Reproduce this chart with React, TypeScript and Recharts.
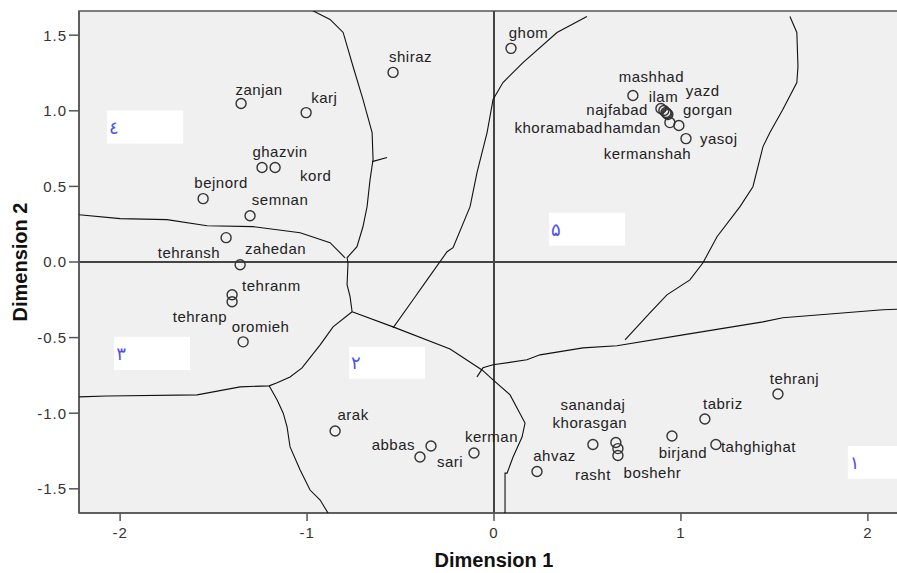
import React from 'react';
import { ScatterChart, Scatter, XAxis, YAxis, ReferenceLine, ReferenceArea, CartesianGrid } from 'recharts';

// ---- data ----
const cities = [
  { name: 'zanjan', x: -1.353, y: 1.048 },
  { name: 'karj', x: -1.005, y: 0.988 },
  { name: 'shiraz', x: -0.54, y: 1.254 },
  { name: 'ghazvin', x: -1.241, y: 0.625 },
  { name: 'kord', x: -1.171, y: 0.625 },
  { name: 'bejnord', x: -1.556, y: 0.419 },
  { name: 'semnan', x: -1.305, y: 0.306 },
  { name: 'tehransh', x: -1.433, y: 0.161 },
  { name: 'zahedan', x: -1.358, y: -0.018 },
  { name: 'tehranm', x: -1.401, y: -0.217 },
  { name: 'tehranp', x: -1.401, y: -0.263 },
  { name: 'oromieh', x: -1.342, y: -0.528 },
  { name: 'arak', x: -0.85, y: -1.118 },
  { name: 'abbas', x: -0.337, y: -1.217 },
  { name: 'sari', x: -0.396, y: -1.29 },
  { name: 'kerman', x: -0.107, y: -1.263 },
  { name: 'ahvaz', x: 0.23, y: -1.386 },
  { name: 'sanandaj', x: 0.529, y: -1.207 },
  { name: 'khorasgan', x: 0.652, y: -1.194 },
  { name: 'rasht', x: 0.663, y: -1.234 },
  { name: 'boshehr', x: 0.663, y: -1.28 },
  { name: 'birjand', x: 0.952, y: -1.151 },
  { name: 'tabriz', x: 1.128, y: -1.038 },
  { name: 'tehranj', x: 1.519, y: -0.873 },
  { name: 'tahghighat', x: 1.187, y: -1.207 },
  { name: 'ghom', x: 0.091, y: 1.413 },
  { name: 'mashhad', x: 0.743, y: 1.101 },
  { name: 'ilam', x: 0.893, y: 1.015 },
  { name: 'najfabad', x: 0.909, y: 1.002 },
  { name: 'gorgan', x: 0.92, y: 0.989 },
  { name: 'kermanshah', x: 0.925, y: 0.982 },
  { name: 'yazd', x: 0.93, y: 0.975 },
  { name: 'khoramabad', x: 0.941, y: 0.922 },
  { name: 'hamdan', x: 0.989, y: 0.903 },
  { name: 'yasoj', x: 1.027, y: 0.816 },
];

const xTicks = [-2, -1, 0, 1, 2];
const yTicks = [-1.5, -1.0, -0.5, 0.0, 0.5, 1.0, 1.5];
const xDomain: [number, number] = [-2.22, 2.22];
const yDomain: [number, number] = [-1.66, 1.66];

// region boundaries (data coordinates)
const boundaryA = [
  { x: -0.973, y: 1.664 }, { x: -0.877, y: 1.604 }, { x: -0.807, y: 1.518 }, { x: -0.754, y: 1.293 },
  { x: -0.701, y: 1.075 }, { x: -0.652, y: 0.856 }, { x: -0.647, y: 0.678 }, { x: -0.663, y: 0.545 },
  { x: -0.679, y: 0.366 }, { x: -0.701, y: 0.233 }, { x: -0.733, y: 0.101 }, { x: -0.786, y: 0.028 },
  { x: -0.781, y: -0.005 }, { x: -0.786, y: -0.15 }, { x: -0.77, y: -0.229 }, { x: -0.759, y: -0.329 },
];
const boundaryStub = [{ x: -0.652, y: 0.664 }, { x: -0.572, y: 0.691 }];
const boundaryB = [
  { x: -2.219, y: 0.313 }, { x: -2.0, y: 0.287 }, { x: -1.749, y: 0.28 }, { x: -1.535, y: 0.24 },
  { x: -1.289, y: 0.234 }, { x: -1.037, y: 0.194 }, { x: -0.877, y: 0.128 }, { x: -0.797, y: 0.028 },
];
const boundaryC = [
  { x: -0.759, y: -0.329 }, { x: -0.861, y: -0.429 }, { x: -0.93, y: -0.548 }, { x: -1.027, y: -0.7 },
  { x: -1.091, y: -0.76 }, { x: -1.16, y: -0.799 }, { x: -1.203, y: -0.819 }, { x: -1.358, y: -0.826 },
  { x: -1.588, y: -0.879 }, { x: -2.07, y: -0.886 }, { x: -2.219, y: -0.892 },
];
const boundaryC2 = [
  { x: -1.203, y: -0.819 }, { x: -1.16, y: -0.912 }, { x: -1.128, y: -0.998 }, { x: -1.107, y: -1.091 },
  { x: -1.091, y: -1.223 }, { x: -1.037, y: -1.376 }, { x: -0.984, y: -1.508 }, { x: -0.93, y: -1.574 },
  { x: -0.888, y: -1.66 },
];
const boundaryD = [
  { x: -0.759, y: -0.329 }, { x: -0.54, y: -0.429 }, { x: -0.235, y: -0.575 }, { x: -0.064, y: -0.714 },
  { x: -0.005, y: -0.78 }, { x: 0.086, y: -0.879 }, { x: 0.166, y: -1.065 }, { x: 0.15, y: -1.158 },
  { x: 0.102, y: -1.29 }, { x: 0.07, y: -1.396 }, { x: 0.059, y: -1.396 }, { x: 0.059, y: -1.66 },
];
const boundaryE = [
  { x: -0.091, y: -0.76 }, { x: -0.059, y: -0.7 }, { x: -0.005, y: -0.68 }, { x: 0.176, y: -0.647 },
  { x: 0.246, y: -0.614 }, { x: 0.476, y: -0.568 }, { x: 0.658, y: -0.554 }, { x: 1.011, y: -0.482 },
  { x: 1.439, y: -0.396 }, { x: 1.545, y: -0.369 }, { x: 2.08, y: -0.316 }, { x: 2.22, y: -0.309 },
];
const boundaryF = [
  { x: -0.54, y: -0.436 }, { x: -0.433, y: -0.25 }, { x: -0.358, y: -0.118 }, { x: -0.251, y: 0.068 },
  { x: -0.219, y: 0.095 }, { x: -0.128, y: 0.366 }, { x: -0.091, y: 0.591 }, { x: -0.037, y: 0.856 },
  { x: -0.005, y: 1.075 }, { x: 0.048, y: 1.187 }, { x: 0.155, y: 1.319 }, { x: 0.337, y: 1.518 },
  { x: 0.497, y: 1.624 },
];
const boundaryG = [
  { x: 1.583, y: 1.624 }, { x: 1.62, y: 1.518 }, { x: 1.626, y: 1.293 }, { x: 1.62, y: 1.187 },
  { x: 1.545, y: 1.008 }, { x: 1.476, y: 0.856 }, { x: 1.439, y: 0.763 }, { x: 1.385, y: 0.498 },
  { x: 1.316, y: 0.366 }, { x: 1.193, y: 0.167 }, { x: 1.118, y: -0.005 }, { x: 1.048, y: -0.118 },
  { x: 0.925, y: -0.217 }, { x: 0.834, y: -0.336 }, { x: 0.701, y: -0.515 },
];
const boundaries = [boundaryA, boundaryStub, boundaryB, boundaryC, boundaryC2, boundaryD, boundaryE, boundaryF, boundaryG];

// region tags
const regionTags = [
  { label: '\u0664', x1: -2.07, x2: -1.663, y1: 0.783, y2: 1.002 },
  { label: '\u06F5', x1: 0.294, x2: 0.701, y1: 0.108, y2: 0.326 },
  { label: '\u06F3', x1: -2.032, x2: -1.626, y1: -0.714, y2: -0.495 },
  { label: '\u06F2', x1: -0.775, x2: -0.369, y1: -0.773, y2: -0.561 },
  { label: '\u06F1', x1: 1.893, x2: 2.22, y1: -1.435, y2: -1.217 },
];

// label placement relative to the point: [anchor, dx, dy]
const labelPlacement: Record<string, [string, number, number]> = {
  zanjan: ['middle', 18, -14],
  karj: ['start', 5, -15],
  shiraz: ['middle', 17.5, -16],
  ghazvin: ['middle', 18, -16],
  kord: ['start', 25, 8],
  bejnord: ['middle', 18, -16],
  semnan: ['middle', 30, -16],
  tehransh: ['end', -6, 15],
  zahedan: ['middle', 35.5, -16],
  tehranm: ['start', 10, -9],
  tehranp: ['end', -5, 15],
  oromieh: ['middle', 17.5, -15],
  arak: ['middle', 18, -16],
  abbas: ['end', -16, -1],
  sari: ['start', 17, 5],
  kerman: ['middle', 17.5, -16],
  ahvaz: ['middle', 17.5, -16],
  sanandaj: ['middle', 0, -40],
  khorasgan: ['middle', -26, -20],
  rasht: ['middle', -25, 26],
  boshehr: ['middle', 34.5, 17],
  birjand: ['middle', 11, 17],
  tabriz: ['middle', 18, -15],
  tehranj: ['middle', 16.5, -15],
  tahghighat: ['start', 5, 2],
  ghom: ['middle', 17.5, -16],
  mashhad: ['middle', 18.5, -19],
  ilam: ['middle', 2.5, -12],
  yazd: ['start', 18, -24],
  najfabad: ['end', -16, -1],
  gorgan: ['start', 17, -3],
  khoramabad: ['end', -67, 5],
  hamdan: ['end', -18, 2],
  kermanshah: ['middle', -19.5, 40],
  yasoj: ['start', 14, 0],
};

const FONT = "'Liberation Sans', Arial, sans-serif";

const CityShape = (props: any) => {
  const { cx, cy, payload } = props;
  const p = labelPlacement[payload.name] || ['middle', 0, -15];
  return (
    <g>
      <circle cx={cx} cy={cy} r={5} fill="none" stroke="#333" strokeWidth={1.4} />
      <text
        x={cx + p[1]}
        y={cy + p[2]}
        dy="0.36em"
        textAnchor={p[0] as any}
        fontFamily={FONT}
        fontSize={15}
        letterSpacing={0.5}
        fill="#222"
      >
        {payload.name}
      </text>
    </g>
  );
};

const NoDot = () => <g />;

const YTick = (props: any) => {
  const { x, y, payload } = props;
  return (
    <text x={x} y={y} dy="0.36em" textAnchor="end" fontFamily={FONT} fontSize={15} letterSpacing={1} fill="#333">
      {Number(payload.value).toFixed(1)}
    </text>
  );
};

const XTick = (props: any) => {
  const { x, payload } = props;
  return (
    <text x={x} y={538} textAnchor="middle" fontFamily={FONT} fontSize={15} letterSpacing={1} fill="#333">
      {String(payload.value)}
    </text>
  );
};

const XTitle = (props: any) => {
  const vb = props.viewBox || {};
  return (
    <text x={vb.x + vb.width / 2} y={567} textAnchor="middle" fontFamily={FONT} fontWeight="bold" fontSize={20} fill="#111">
      Dimension 1
    </text>
  );
};

const YTitle = () => (
  <text
    x={27}
    y={262}
    transform="rotate(-90 27 262)"
    textAnchor="middle"
    fontFamily={FONT}
    fontWeight="bold"
    fontSize={20}
    fill="#111"
  >
    Dimension 2
  </text>
);

const makeTagShape = (label: string) => (props: any) => {
  const { x, y, width, height } = props;
  return (
    <g>
      <rect x={x} y={y} width={width} height={height} fill="#ffffff" />
      <text
        x={x + 2}
        y={y + height / 2}
        dy="0.36em"
        fontFamily="'DejaVu Sans', sans-serif"
        fontSize={18}
        fill="#4a52f0"
      >
        {label}
      </text>
    </g>
  );
};

export default function App() {
  return (
    <div style={{ position: 'absolute', left: 0, top: 0, width: 897, height: 573, overflow: 'hidden', background: '#fff' }}>
      <ScatterChart width={914} height={573} margin={{ top: 11, right: 5, bottom: 0, left: 0 }}>
        <CartesianGrid fill="#f0f0f0" horizontal={false} vertical={false} />
        <XAxis
          type="number"
          dataKey="x"
          domain={xDomain}
          ticks={xTicks}
          allowDataOverflow
          height={60}
          tickSize={8}
          tick={<XTick />}
          axisLine={{ stroke: '#555', strokeWidth: 1.5 }}
          tickLine={{ stroke: '#555', strokeWidth: 1.5 }}
          label={<XTitle />}
        />
        <YAxis
          type="number"
          dataKey="y"
          domain={yDomain}
          ticks={yTicks}
          allowDataOverflow
          width={79}
          tickSize={10}
          tickMargin={2}
          tick={<YTick />}
          axisLine={{ stroke: '#555', strokeWidth: 1.5 }}
          tickLine={{ stroke: '#555', strokeWidth: 1.5 }}
          label={<YTitle />}
        />
        <ReferenceArea
          x1={xDomain[0]}
          x2={xDomain[1]}
          y1={yDomain[0]}
          y2={yDomain[1]}
          fill="none"
          fillOpacity={0}
          stroke="#555"
          strokeWidth={1.5}
        />
        {regionTags.map((t, i) => (
          <ReferenceArea key={'tag' + i} x1={t.x1} x2={t.x2} y1={t.y1} y2={t.y2} shape={makeTagShape(t.label)} />
        ))}
        <ReferenceLine x={0} stroke="#444" strokeWidth={2} />
        <ReferenceLine y={0} stroke="#444" strokeWidth={2} />
        {boundaries.map((b, i) => (
          <Scatter
            key={'b' + i}
            data={b}
            line={{ stroke: '#111', strokeWidth: 1.1 }}
            lineType="joint"
            shape={<NoDot />}
            isAnimationActive={false}
          />
        ))}
        <Scatter data={cities} shape={<CityShape />} isAnimationActive={false} />
      </ScatterChart>
    </div>
  );
}
